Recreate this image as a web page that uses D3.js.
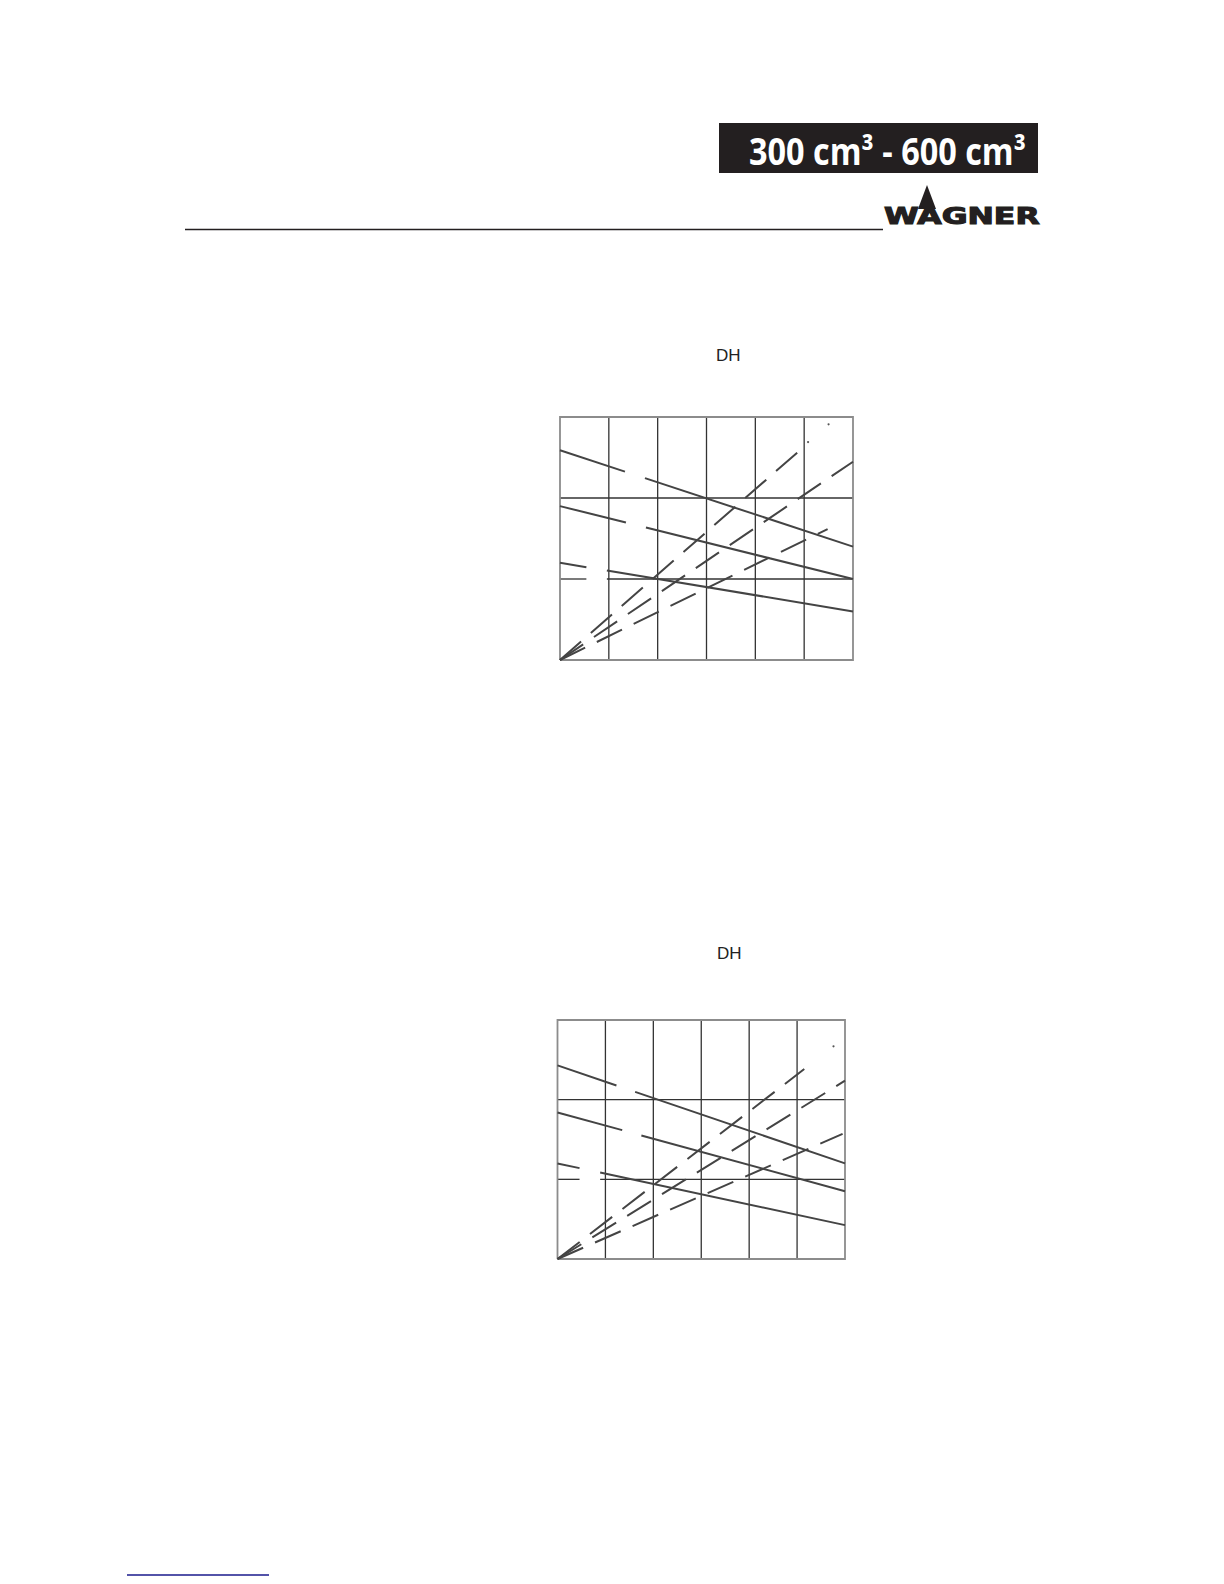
<!DOCTYPE html>
<html>
<head>
<meta charset="utf-8">
<script src="https://cdn.jsdelivr.net/npm/d3@7"></script>
<style>
  html, body { margin: 0; padding: 0; background: #fff; }
  svg { display: block; }
</style>
</head>
<body>
<svg id="page" width="1224" height="1584"></svg>
<script>
// ---------------- DATA ----------------
const xTicks = [0, 1, 2, 3, 4, 5, 6];
const yTicks = [0, 1, 2, 3];
const axisLabel = "DH";
const headerText = "300 cm³ - 600 cm³";
const logoText = "WAGNER";

// Top chart
const topSolidStart = [2.59, 1.90, 1.20];   // value at x = 0
const topSolidEnd   = [1.40, 1.00, 0.60];   // value at x = 6
const topSolidGaps  = [[1.33, 1.74], [1.35, 1.76], [0.54, 0.96]];
const topDashSlopes = [0.527, 0.408, 0.295];
const topDashEnds   = [4.88, 6.0, 5.48];
const topDashDots   = [[5.08, 2.69], [5.50, 2.91]];
const topGridGap    = [0.54, 0.96];

// Bottom chart
const botSolidStart = [2.43, 1.84, 1.20];
const botSolidEnd   = [1.20, 0.85, 0.425];
const botSolidGaps  = [[1.23, 1.62], [1.35, 1.75], [0.46, 0.89]];
const botDashSlopes = [0.463, 0.373, 0.264];
const botDashEnds   = [5.15, 6.0, 5.95];
const botDashDots   = [[5.76, 2.67]];
const botGridGap    = [0.46, 0.89];

// ---------------- DRAW ----------------
const svg = d3.select("#page");

// Header box
svg.append("rect").attr("x", 719).attr("y", 123).attr("width", 319).attr("height", 50).attr("fill", "#231f20");
svg.append("text").attr("x", 749).attr("y", 165)
  .attr("font-family", "'Open Sans', 'Noto Sans', sans-serif")
  .attr("font-weight", 700).attr("font-size", 37).attr("fill", "#fff")
  .attr("textLength", 277).attr("lengthAdjust", "spacingAndGlyphs")
  .text(headerText);

// Rule + logo
svg.append("line").attr("x1", 185).attr("x2", 883).attr("y1", 229.5).attr("y2", 229.5)
  .attr("stroke", "#231f20").attr("stroke-width", 1.4);
svg.append("g").attr("transform", "translate(884,224) scale(1.4,1)")
  .append("text").attr("x", 0).attr("y", 0)
  .attr("font-family", "'DejaVu Sans', sans-serif").attr("font-weight", 700)
  .attr("font-size", 22.5).attr("fill", "#231f20")
  .attr("stroke", "#231f20").attr("stroke-width", 1.1).attr("stroke-linejoin", "miter")
  .text(logoText);
svg.append("polygon").attr("points", "927,185 918,209 936,209").attr("fill", "#231f20");

// bottom link underline
svg.append("line").attr("x1", 127).attr("x2", 269).attr("y1", 1575).attr("y2", 1575)
  .attr("stroke", "#1a1a8c").attr("stroke-width", 1.6);

function drawChart(box, labelPos, solidStart, solidEnd, solidGaps, dashSlopes, dashEnds, dots, gridGap) {
  const x = d3.scaleLinear().domain([xTicks[0], xTicks[xTicks.length - 1]]).range([box.left, box.right]);
  const y = d3.scaleLinear().domain([yTicks[0], yTicks[yTicks.length - 1]]).range([box.bottom, box.top]);
  const g = svg.append("g");
  const line = d3.line().x(d => x(d[0])).y(d => y(d[1]));

  // label
  svg.append("text").attr("x", labelPos[0]).attr("y", labelPos[1])
    .attr("font-family", "'Liberation Sans', Arial, sans-serif").attr("font-size", 17)
    .attr("fill", "#222").text(axisLabel);

  // vertical grid
  xTicks.slice(1, -1).forEach(t => {
    g.append("path").attr("d", line([[t, yTicks[0]], [t, yTicks[yTicks.length - 1]]]))
      .attr("stroke", "#333").attr("stroke-width", 1.3).attr("fill", "none");
  });
  // horizontal grid
  const x0 = xTicks[0], x1 = xTicks[xTicks.length - 1];
  yTicks.slice(1, -1).forEach(t => {
    const segs = t === 1 ? [[x0, gridGap[0]], [gridGap[1], x1]] : [[x0, x1]];
    segs.forEach(s => {
      g.append("path").attr("d", line([[s[0], t], [s[1], t]]))
        .attr("stroke", "#333").attr("stroke-width", 1.3).attr("fill", "none");
    });
  });
  // frame
  g.append("path")
    .attr("d", line([[x0, yTicks[0]], [x0, yTicks[3]], [x1, yTicks[3]], [x1, yTicks[0]], [x0, yTicks[0]]]))
    .attr("stroke", "#8c8c8c").attr("stroke-width", 1.8).attr("fill", "none");

  // solid lines with gaps
  solidStart.forEach((v0, i) => {
    const v1 = solidEnd[i];
    const f = t => v0 + (v1 - v0) * (t - x0) / (x1 - x0);
    const [ga, gb] = solidGaps[i];
    [[x0, ga], [gb, x1]].forEach(s => {
      g.append("path").attr("d", line([[s[0], f(s[0])], [s[1], f(s[1])]]))
        .attr("stroke", "#444").attr("stroke-width", 2).attr("fill", "none");
    });
  });

  // dashed lines from origin
  dashSlopes.forEach((m, i) => {
    const e = dashEnds[i];
    g.append("path").attr("d", line([[0, 0], [e, m * e]]))
      .attr("stroke", "#444").attr("stroke-width", 2).attr("fill", "none")
      .attr("stroke-dasharray", "28,13");
  });
  // faded remnants
  g.selectAll(null).data(dots).join("circle")
    .attr("cx", d => x(d[0])).attr("cy", d => y(d[1])).attr("r", 1.1).attr("fill", "#555");
}

drawChart({left: 560, right: 853, top: 417, bottom: 660}, [716, 361],
  topSolidStart, topSolidEnd, topSolidGaps, topDashSlopes, topDashEnds, topDashDots, topGridGap);
drawChart({left: 557.5, right: 845, top: 1020, bottom: 1259}, [717, 959],
  botSolidStart, botSolidEnd, botSolidGaps, botDashSlopes, botDashEnds, botDashDots, botGridGap);
</script>
</body>
</html>
